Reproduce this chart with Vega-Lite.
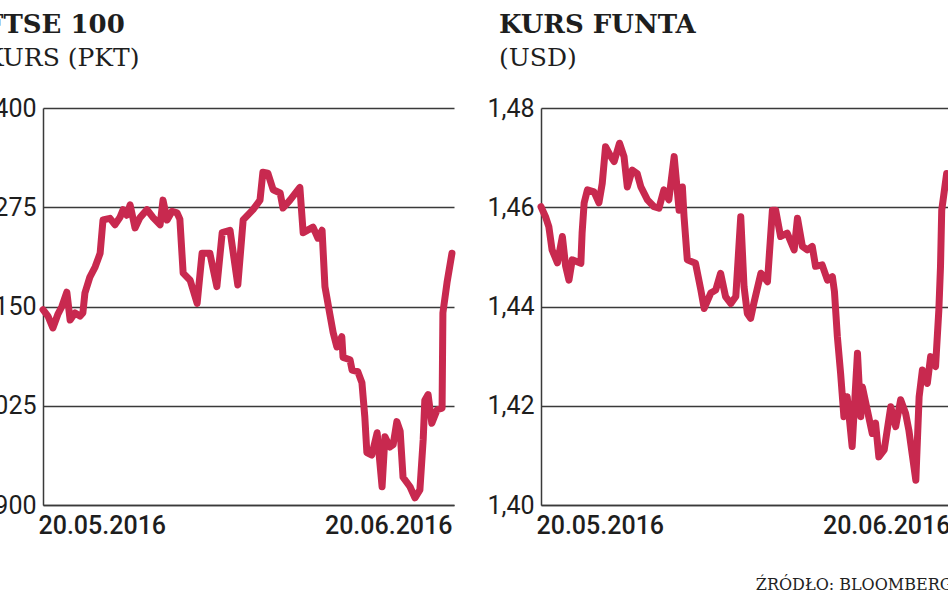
{
  "$schema": "https://vega.github.io/schema/vega-lite/v6.json",
  "autosize": {"type": "none"},
  "padding": {"left": 43, "top": 108, "right": 905, "bottom": 485},
  "background": "white",
  "datasets": {
    "ftse": [
      {"t": 0, "v": 6146}, {"t": 1.2, "v": 6138}, {"t": 2.4, "v": 6123}, {"t": 3.6, "v": 6140},
      {"t": 4.6, "v": 6150}, {"t": 5.8, "v": 6168}, {"t": 6.6, "v": 6133}, {"t": 7.8, "v": 6142},
      {"t": 9.0, "v": 6138}, {"t": 9.7, "v": 6142}, {"t": 10.2, "v": 6167}, {"t": 11.4, "v": 6187},
      {"t": 12.7, "v": 6200}, {"t": 13.9, "v": 6217}, {"t": 14.6, "v": 6259}, {"t": 16.3, "v": 6261},
      {"t": 17.5, "v": 6253}, {"t": 18.7, "v": 6262}, {"t": 19.5, "v": 6272}, {"t": 20.4, "v": 6265},
      {"t": 21.2, "v": 6278}, {"t": 22.4, "v": 6249}, {"t": 23.6, "v": 6262}, {"t": 25.3, "v": 6272},
      {"t": 26.8, "v": 6262}, {"t": 28.5, "v": 6253}, {"t": 29.2, "v": 6284}, {"t": 30.2, "v": 6259},
      {"t": 31.4, "v": 6270}, {"t": 32.6, "v": 6268}, {"t": 33.3, "v": 6260}, {"t": 34.1, "v": 6192},
      {"t": 35.8, "v": 6183}, {"t": 37.5, "v": 6154}, {"t": 38.7, "v": 6217}, {"t": 40.6, "v": 6217},
      {"t": 42.3, "v": 6175}, {"t": 43.6, "v": 6243}, {"t": 45.5, "v": 6246}, {"t": 47.4, "v": 6177},
      {"t": 48.7, "v": 6259}, {"t": 51.1, "v": 6272}, {"t": 52.8, "v": 6284}, {"t": 53.5, "v": 6319},
      {"t": 54.7, "v": 6318}, {"t": 56.0, "v": 6297}, {"t": 57.7, "v": 6293}, {"t": 58.4, "v": 6274},
      {"t": 60.1, "v": 6284}, {"t": 62.5, "v": 6300}, {"t": 63.3, "v": 6243}, {"t": 65.7, "v": 6250},
      {"t": 66.9, "v": 6236}, {"t": 67.9, "v": 6246}, {"t": 68.6, "v": 6175}, {"t": 69.8, "v": 6140},
      {"t": 70.6, "v": 6117}, {"t": 71.5, "v": 6099}, {"t": 72.7, "v": 6112}, {"t": 73.0, "v": 6086},
      {"t": 74.7, "v": 6083}, {"t": 75.2, "v": 6070}, {"t": 76.6, "v": 6068}, {"t": 77.6, "v": 6054},
      {"t": 78.3, "v": 6011}, {"t": 78.8, "v": 5966}, {"t": 80.0, "v": 5963}, {"t": 81.3, "v": 5991},
      {"t": 82.5, "v": 5923}, {"t": 83.2, "v": 5986}, {"t": 84.4, "v": 5973}, {"t": 85.2, "v": 5976},
      {"t": 86.1, "v": 6005}, {"t": 86.9, "v": 5993}, {"t": 87.6, "v": 5935}, {"t": 89.3, "v": 5923},
      {"t": 90.5, "v": 5909}, {"t": 91.7, "v": 5919}, {"t": 92.5, "v": 5982}, {"t": 92.9, "v": 6032},
      {"t": 93.7, "v": 6039}, {"t": 94.6, "v": 6003}, {"t": 95.9, "v": 6020}, {"t": 97.1, "v": 6022},
      {"t": 97.3, "v": 6142}, {"t": 98.3, "v": 6180}, {"t": 99.5, "v": 6217}
    ],
    "gbp": [
      {"t": 0, "v": 1.4601}, {"t": 1.1, "v": 1.4581}, {"t": 1.9, "v": 1.4561}, {"t": 2.7, "v": 1.4514},
      {"t": 4.0, "v": 1.4488}, {"t": 5.2, "v": 1.4541}, {"t": 6.0, "v": 1.4481}, {"t": 6.8, "v": 1.4453},
      {"t": 7.6, "v": 1.4494}, {"t": 9.7, "v": 1.4487}, {"t": 10.0, "v": 1.4548}, {"t": 10.5, "v": 1.4609},
      {"t": 11.3, "v": 1.4635}, {"t": 12.9, "v": 1.4631}, {"t": 14.1, "v": 1.4609}, {"t": 14.9, "v": 1.4648},
      {"t": 15.7, "v": 1.4722}, {"t": 17.0, "v": 1.4702}, {"t": 17.8, "v": 1.4692}, {"t": 19.1, "v": 1.4729},
      {"t": 20.2, "v": 1.4702}, {"t": 21.0, "v": 1.4641}, {"t": 22.2, "v": 1.4675}, {"t": 23.4, "v": 1.4668},
      {"t": 24.3, "v": 1.4641}, {"t": 25.9, "v": 1.4615}, {"t": 27.5, "v": 1.4601}, {"t": 28.7, "v": 1.4598},
      {"t": 29.9, "v": 1.4635}, {"t": 31.1, "v": 1.4615}, {"t": 32.4, "v": 1.4702}, {"t": 33.6, "v": 1.4594},
      {"t": 34.4, "v": 1.4641}, {"t": 34.8, "v": 1.4581}, {"t": 35.6, "v": 1.4494}, {"t": 37.6, "v": 1.4487},
      {"t": 38.9, "v": 1.4433}, {"t": 39.7, "v": 1.4396}, {"t": 41.3, "v": 1.4427}, {"t": 42.5, "v": 1.4433},
      {"t": 43.7, "v": 1.4467}, {"t": 44.9, "v": 1.442}, {"t": 46.2, "v": 1.4406}, {"t": 47.4, "v": 1.442},
      {"t": 48.6, "v": 1.4581}, {"t": 49.4, "v": 1.444}, {"t": 50.2, "v": 1.4386}, {"t": 51.0, "v": 1.4376},
      {"t": 51.8, "v": 1.4407}, {"t": 53.5, "v": 1.4467}, {"t": 55.1, "v": 1.445}, {"t": 56.3, "v": 1.4594},
      {"t": 57.1, "v": 1.4594}, {"t": 58.3, "v": 1.4541}, {"t": 59.9, "v": 1.4548}, {"t": 61.6, "v": 1.4514},
      {"t": 62.4, "v": 1.4578}, {"t": 63.6, "v": 1.4521}, {"t": 64.8, "v": 1.4514}, {"t": 66.0, "v": 1.4521},
      {"t": 66.8, "v": 1.4481}, {"t": 68.4, "v": 1.4484}, {"t": 69.7, "v": 1.4453}, {"t": 70.9, "v": 1.446},
      {"t": 71.4, "v": 1.443}, {"t": 72.1, "v": 1.434}, {"t": 72.9, "v": 1.4265}, {"t": 73.7, "v": 1.4178},
      {"t": 74.5, "v": 1.4218}, {"t": 75.7, "v": 1.4118}, {"t": 77.0, "v": 1.4306}, {"t": 77.8, "v": 1.4178},
      {"t": 78.2, "v": 1.4238}, {"t": 79.4, "v": 1.4191}, {"t": 80.6, "v": 1.4144}, {"t": 81.4, "v": 1.4165},
      {"t": 82.2, "v": 1.4097}, {"t": 83.5, "v": 1.4111}, {"t": 85.1, "v": 1.4198}, {"t": 86.3, "v": 1.4158},
      {"t": 87.5, "v": 1.4212}, {"t": 88.7, "v": 1.4185}, {"t": 89.5, "v": 1.4151}, {"t": 91.2, "v": 1.405},
      {"t": 92.0, "v": 1.4218}, {"t": 92.8, "v": 1.4272}, {"t": 94.0, "v": 1.4245}, {"t": 94.8, "v": 1.4299},
      {"t": 96.0, "v": 1.4279}, {"t": 96.8, "v": 1.4393}, {"t": 97.2, "v": 1.448}, {"t": 97.5, "v": 1.4594},
      {"t": 98.7, "v": 1.4668}, {"t": 99.5, "v": 1.464}
    ]
  },
  "hconcat": [
    {
      "width": 411,
      "height": 397,
      "data": {"name": "ftse"},
      "title": {"text": "FTSE 100", "subtitle": "KURS (PKT)", "dx": -58},
      "mark": {"type": "line", "color": "#c8294f", "strokeWidth": 7, "strokeJoin": "round", "strokeCap": "round"},
      "encoding": {
        "x": {
          "field": "t", "type": "quantitative",
          "scale": {"domain": [0, 100], "nice": false},
          "axis": {
            "values": [0, 100], "title": null, "grid": false,
            "labelExpr": "datum.value < 50 ? '20.05.2016' : '20.06.2016'",
            "labelAlign": {"condition": {"test": "datum.value < 50", "value": "left"}, "value": "right"},
            "labelOffset": {"condition": {"test": "datum.value < 50", "value": -5}, "value": -2}
          }
        },
        "y": {
          "field": "v", "type": "quantitative",
          "scale": {"domain": [5900, 6400], "zero": false, "nice": false},
          "axis": {"values": [5900, 6025, 6150, 6275, 6400], "format": "d", "title": null}
        }
      }
    },
    {
      "width": 411,
      "height": 397,
      "data": {"name": "gbp"},
      "title": {"text": "KURS FUNTA", "subtitle": "(USD)", "dx": -42},
      "mark": {"type": "line", "color": "#c8294f", "strokeWidth": 7, "strokeJoin": "round", "strokeCap": "round"},
      "encoding": {
        "x": {
          "field": "t", "type": "quantitative",
          "scale": {"domain": [0, 100], "nice": false},
          "axis": {
            "values": [0, 100], "grid": false,
            "title": "ŹRÓDŁO: BLOOMBERG",
            "titleAnchor": "end", "titleAlign": "right",
            "titleFont": "DejaVu Serif", "titleFontSize": 16, "titleFontWeight": "normal",
            "titleColor": "#222", "titlePadding": 38,
            "labelExpr": "datum.value < 50 ? '20.05.2016' : '20.06.2016'",
            "labelAlign": {"condition": {"test": "datum.value < 50", "value": "left"}, "value": "right"},
            "labelOffset": {"condition": {"test": "datum.value < 50", "value": -5}, "value": -2}
          }
        },
        "y": {
          "field": "v", "type": "quantitative",
          "scale": {"domain": [1.40, 1.48], "zero": false, "nice": false},
          "axis": {
            "values": [1.40, 1.42, 1.44, 1.46, 1.48], "title": null,
            "labelExpr": "replace(format(datum.value, '.2f'), '.', ',')"
          }
        }
      }
    }
  ],
  "spacing": 87,
  "bounds": "flush",
  "resolve": {"scale": {"x": "independent", "y": "independent"}},
  "config": {
    "view": {"stroke": null},
    "axis": {
      "domainColor": "#3a3a3a", "domainWidth": 1.5,
      "gridColor": "#3a3a3a", "gridWidth": 1.5, "gridOpacity": 1,
      "ticks": false,
      "labelFont": "Roboto", "labelColor": "#1e1e1e"
    },
    "axisY": {"labelFontSize": 25, "labelPadding": 7, "grid": true},
    "axisX": {"labelFontSize": 25, "labelFontWeight": 500, "labelPadding": 8, "labelBaseline": "top"},
    "title": {
      "anchor": "start", "frame": "group",
      "font": "DejaVu Serif", "fontSize": 26, "fontWeight": "bold", "color": "#1e1e1e",
      "subtitleFont": "DejaVu Serif", "subtitleFontSize": 25, "subtitleColor": "#1e1e1e",
      "subtitlePadding": 8, "offset": 25
    }
  }
}
